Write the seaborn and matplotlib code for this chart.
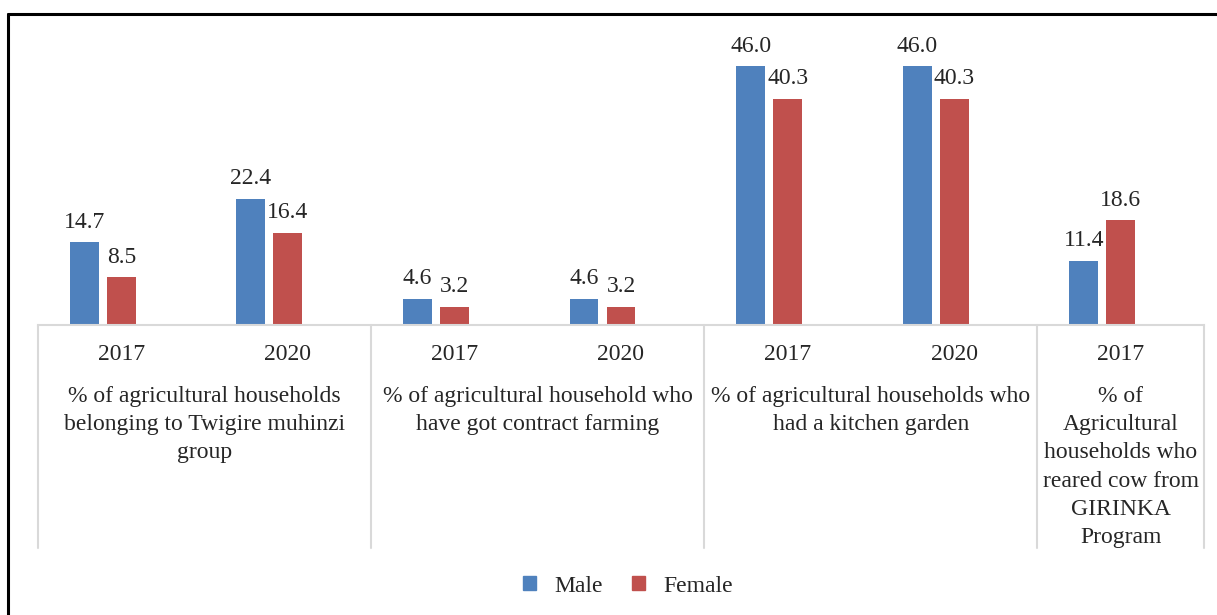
import pandas as pd
import matplotlib.pyplot as plt
import seaborn as sns
from matplotlib.lines import Line2D
from matplotlib.patches import Patch

# =============================
# Data
# =============================
groups = [
    "% of agricultural households\nbelonging to Twigire muhinzi\ngroup",
    "% of agricultural household who\nhave got contract farming",
    "% of agricultural households who\nhad a kitchen garden",
    "% of\nAgricultural\nhouseholds who\nreared cow from\nGIRINKA\nProgram",
]
group_years = [["2017", "2020"], ["2017", "2020"], ["2017", "2020"], ["2017"]]

male = [14.7, 22.4, 4.6, 4.6, 46.0, 46.0, 11.4]
female = [8.5, 16.4, 3.2, 3.2, 40.3, 40.3, 18.6]

colors = {"Male": "#4F81BD", "Female": "#C0504D", "blank": "#FFFFFF"}

# =============================
# Long table (an empty third series keeps Excel's bar offset)
# =============================
slots = []
for gi, years in enumerate(group_years):
    for y in years:
        slots.append(f"{gi}_{y}")

df = pd.DataFrame({
    "slot": slots * 3,
    "value": male + female + [0.0] * len(slots),
    "Sex": ["Male"] * len(slots) + ["Female"] * len(slots) + ["blank"] * len(slots),
})

# =============================
# Plot
# =============================
sns.set_style("white")
plt.rcParams["font.family"] = ["Liberation Serif", "DejaVu Serif"]
FS = 17

W, H = 1217, 615
fig = plt.figure(figsize=(W / 100, H / 100), dpi=100)
ax = fig.add_axes([38 / W, 1 - 325 / H, 1166 / W, 281 / H])

sns.barplot(
    data=df, x="slot", y="value", hue="Sex", order=slots,
    hue_order=["Male", "Female", "blank"],
    palette=colors, width=0.666, gap=0.22, ax=ax, legend=False,
    saturation=1, linewidth=0,
)

ax.set_ylim(0, 50)
ax.set_xlim(-0.5, len(slots) - 0.5)
ax.set_yticks([])
ax.set_xticks([])
ax.set_xlabel("")
ax.set_ylabel("")
for s in ["top", "left", "right"]:
    ax.spines[s].set_visible(False)
ax.spines["bottom"].set_color("#D9D9D9")
ax.spines["bottom"].set_linewidth(1.5)

# value labels (Male and Female only)
for cont in ax.containers[:2]:
    ax.bar_label(cont, fmt="%.1f", padding=7, fontsize=FS)

# year labels + group labels + separators
sep_y = -(548 - 325) / 281
pos = 0
bounds = [-0.5]
for gi, years in enumerate(group_years):
    start = pos
    for y in years:
        ax.text(pos, -(354 - 325) / 281, y, ha="center", va="center",
                fontsize=FS, transform=ax.get_xaxis_transform(), clip_on=False)
        pos += 1
    center = (start + pos - 1) / 2
    ax.text(center, -(386 - 325) / 281, groups[gi], ha="center", va="top",
            fontsize=FS, linespacing=1.45,
            transform=ax.get_xaxis_transform(), clip_on=False)
    bounds.append(pos - 0.5)

for b in bounds:
    ax.add_line(Line2D([b, b], [0, sep_y], color="#D9D9D9", lw=1.5,
                       transform=ax.get_xaxis_transform(), clip_on=False))

# legend
handles = [Patch(color=colors["Male"], label="Male"),
           Patch(color=colors["Female"], label="Female")]
fig.legend(handles=handles, loc="center", bbox_to_anchor=(628 / W, 1 - 586 / H),
           ncol=2, frameon=False, fontsize=FS, handlelength=0.55,
           handleheight=0.55, handletextpad=0.8, columnspacing=1.2)

# outer border (top and left visible)
fig.add_artist(Line2D([8 / W, 1.0], [1 - 14 / H, 1 - 14 / H], color="black",
                      lw=2.2, transform=fig.transFigure))
fig.add_artist(Line2D([8 / W, 8 / W], [0, 1 - 14 / H], color="black",
                      lw=2.2, transform=fig.transFigure))

plt.savefig("out.png", dpi=100)
